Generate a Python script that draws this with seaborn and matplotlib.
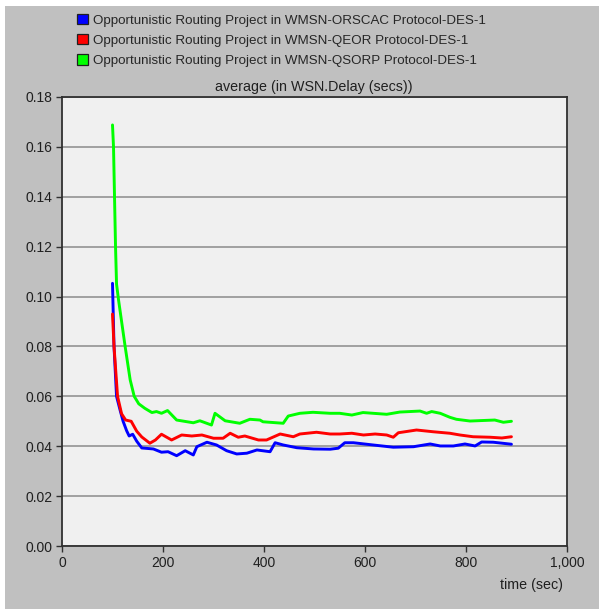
import matplotlib
matplotlib.use('Agg')
import matplotlib.pyplot as plt
import numpy as np
import pandas as pd
import seaborn as sns
from matplotlib.patches import Patch, Rectangle
from matplotlib.ticker import FuncFormatter, MultipleLocator

# values
orscac_t = [100, 103, 108, 115, 121, 128, 133, 140, 148, 158, 164, 181, 197, 210, 227,
            244, 260, 267, 287, 306, 326, 346, 366, 386, 412, 422, 438, 465, 498, 531,
            547, 560, 577, 616, 656, 696, 729, 749, 775, 798, 818, 831, 854, 890]
orscac_v = [0.1053, 0.080, 0.060, 0.0545, 0.050, 0.0462, 0.0441, 0.0448, 0.0420, 0.0393,
            0.0392, 0.0389, 0.0376, 0.0378, 0.0362, 0.0382, 0.0365, 0.0398, 0.0416, 0.0405,
            0.0382, 0.0369, 0.0372, 0.0385, 0.0378, 0.0414, 0.0405, 0.0394, 0.0389, 0.0388,
            0.0392, 0.0414, 0.0414, 0.0405, 0.0396, 0.0398, 0.0409, 0.0401, 0.0401, 0.0409,
            0.0401, 0.0417, 0.0416, 0.0408]

qeor_t = [100, 103, 110, 118, 126, 137, 148, 158, 174, 185, 197, 217, 237, 257, 277,
          300, 319, 333, 349, 362, 389, 405, 432, 458, 471, 504, 531, 550, 574, 597,
          620, 643, 656, 666, 702, 735, 768, 788, 814, 848, 871, 890]
qeor_v = [0.093, 0.080, 0.060, 0.053, 0.0505, 0.0500, 0.0460, 0.0437, 0.0412, 0.0425,
          0.0448, 0.0425, 0.0445, 0.0441, 0.0445, 0.0432, 0.0432, 0.0452, 0.0436, 0.0441,
          0.0425, 0.0425, 0.0449, 0.0438, 0.0449, 0.0456, 0.0449, 0.0449, 0.0452, 0.0445,
          0.0449, 0.0445, 0.0436, 0.0454, 0.0465, 0.0458, 0.0452, 0.0445, 0.0438, 0.0436,
          0.0433, 0.0438]

qsorp_t = [100, 102, 104, 106, 108, 112, 125, 135, 143, 152, 164, 178, 187, 197, 209,
           227, 260, 273, 296, 303, 323, 352, 372, 392, 398, 438, 448, 471, 497, 531,
           550, 574, 596, 643, 669, 709, 722, 732, 749, 768, 781, 808, 857, 874, 890]
qsorp_v = [0.1688, 0.160, 0.140, 0.120, 0.105, 0.0986, 0.080, 0.0666, 0.060, 0.057,
           0.0552, 0.0535, 0.0539, 0.0532, 0.0543, 0.0505, 0.0494, 0.0502, 0.0485, 0.0532,
           0.0502, 0.0492, 0.0508, 0.0505, 0.0498, 0.0492, 0.0521, 0.0532, 0.0536, 0.0532,
           0.0532, 0.0525, 0.0535, 0.0528, 0.0537, 0.0541, 0.0532, 0.0539, 0.0532, 0.0516,
           0.0508, 0.0501, 0.0505, 0.0496, 0.0500]

names = ['Opportunistic Routing Project in WMSN-ORSCAC Protocol-DES-1',
         'Opportunistic Routing Project in WMSN-QEOR Protocol-DES-1',
         'Opportunistic Routing Project in WMSN-QSORP Protocol-DES-1']
colors = ['#0000ff', '#ff0000', '#00ff00']

frames = []
for name, t, v in zip(names, [orscac_t, qeor_t, qsorp_t], [orscac_v, qeor_v, qsorp_v]):
    frames.append(pd.DataFrame({'time': t, 'delay': v, 'run': name}))
df = pd.concat(frames, ignore_index=True)

sns.set_style('white')
plt.rcParams['font.family'] = ['Liberation Sans', 'DejaVu Sans']
plt.rcParams['font.size'] = 10

fig = plt.figure(figsize=(5.99, 6.09), dpi=100, facecolor='white')
fig.patches.append(Rectangle((5 / 599, 0), 1, 1 - 6 / 609, transform=fig.transFigure,
                             facecolor='#c0c0c0', edgecolor='none', zorder=-10))
ax = fig.add_axes([62 / 599, 1 - 546 / 609, 505 / 599, 449 / 609])
ax.set_facecolor('#f0f0f0')

sns.lineplot(data=df, x='time', y='delay', hue='run', palette=colors, estimator=None,
             linewidth=2.1, legend=False, ax=ax)

ax.set_xlim(0, 1000)
ax.set_ylim(0, 0.18)
ax.xaxis.set_major_locator(MultipleLocator(200))
ax.yaxis.set_major_locator(MultipleLocator(0.02))
ax.xaxis.set_major_formatter(FuncFormatter(lambda x, p: f'{x:,.0f}'))
ax.yaxis.set_major_formatter(FuncFormatter(lambda y, p: f'{y:.2f}'))
ax.yaxis.grid(True, color='#9a9a9a', linewidth=1.3)
ax.xaxis.grid(False)
ax.set_axisbelow(True)
for s in ax.spines.values():
    s.set_color('#303030')
    s.set_linewidth(1.3)
ax.tick_params(axis='both', which='major', direction='out', length=4.5, width=1,
               color='#303030', labelsize=10, labelcolor='#202020', pad=2.5,
               left=True, bottom=True)
ax.set_xlabel('')
ax.set_ylabel('')

fig.text(314 / 599, 1 - 87 / 609, 'average (in WSN.Delay (secs))', ha='center',
         va='center', fontsize=10.3, color='#202020')
fig.text(532 / 599, 1 - 585 / 609, 'time (sec)', ha='center', va='center',
         fontsize=10.3, color='#202020')

handles = [Patch(facecolor=c, edgecolor='#202020', linewidth=0.9) for c in colors]
fig.legend(handles, names, loc='upper left', bbox_to_anchor=(77 / 599, 1 - 14 / 609),
           frameon=False, fontsize=9.6, handlelength=0.8, handleheight=0.8,
           handletextpad=0.4, labelspacing=0.56, borderaxespad=0, borderpad=0)

fig.savefig('out.png', dpi=100, facecolor=fig.get_facecolor())
